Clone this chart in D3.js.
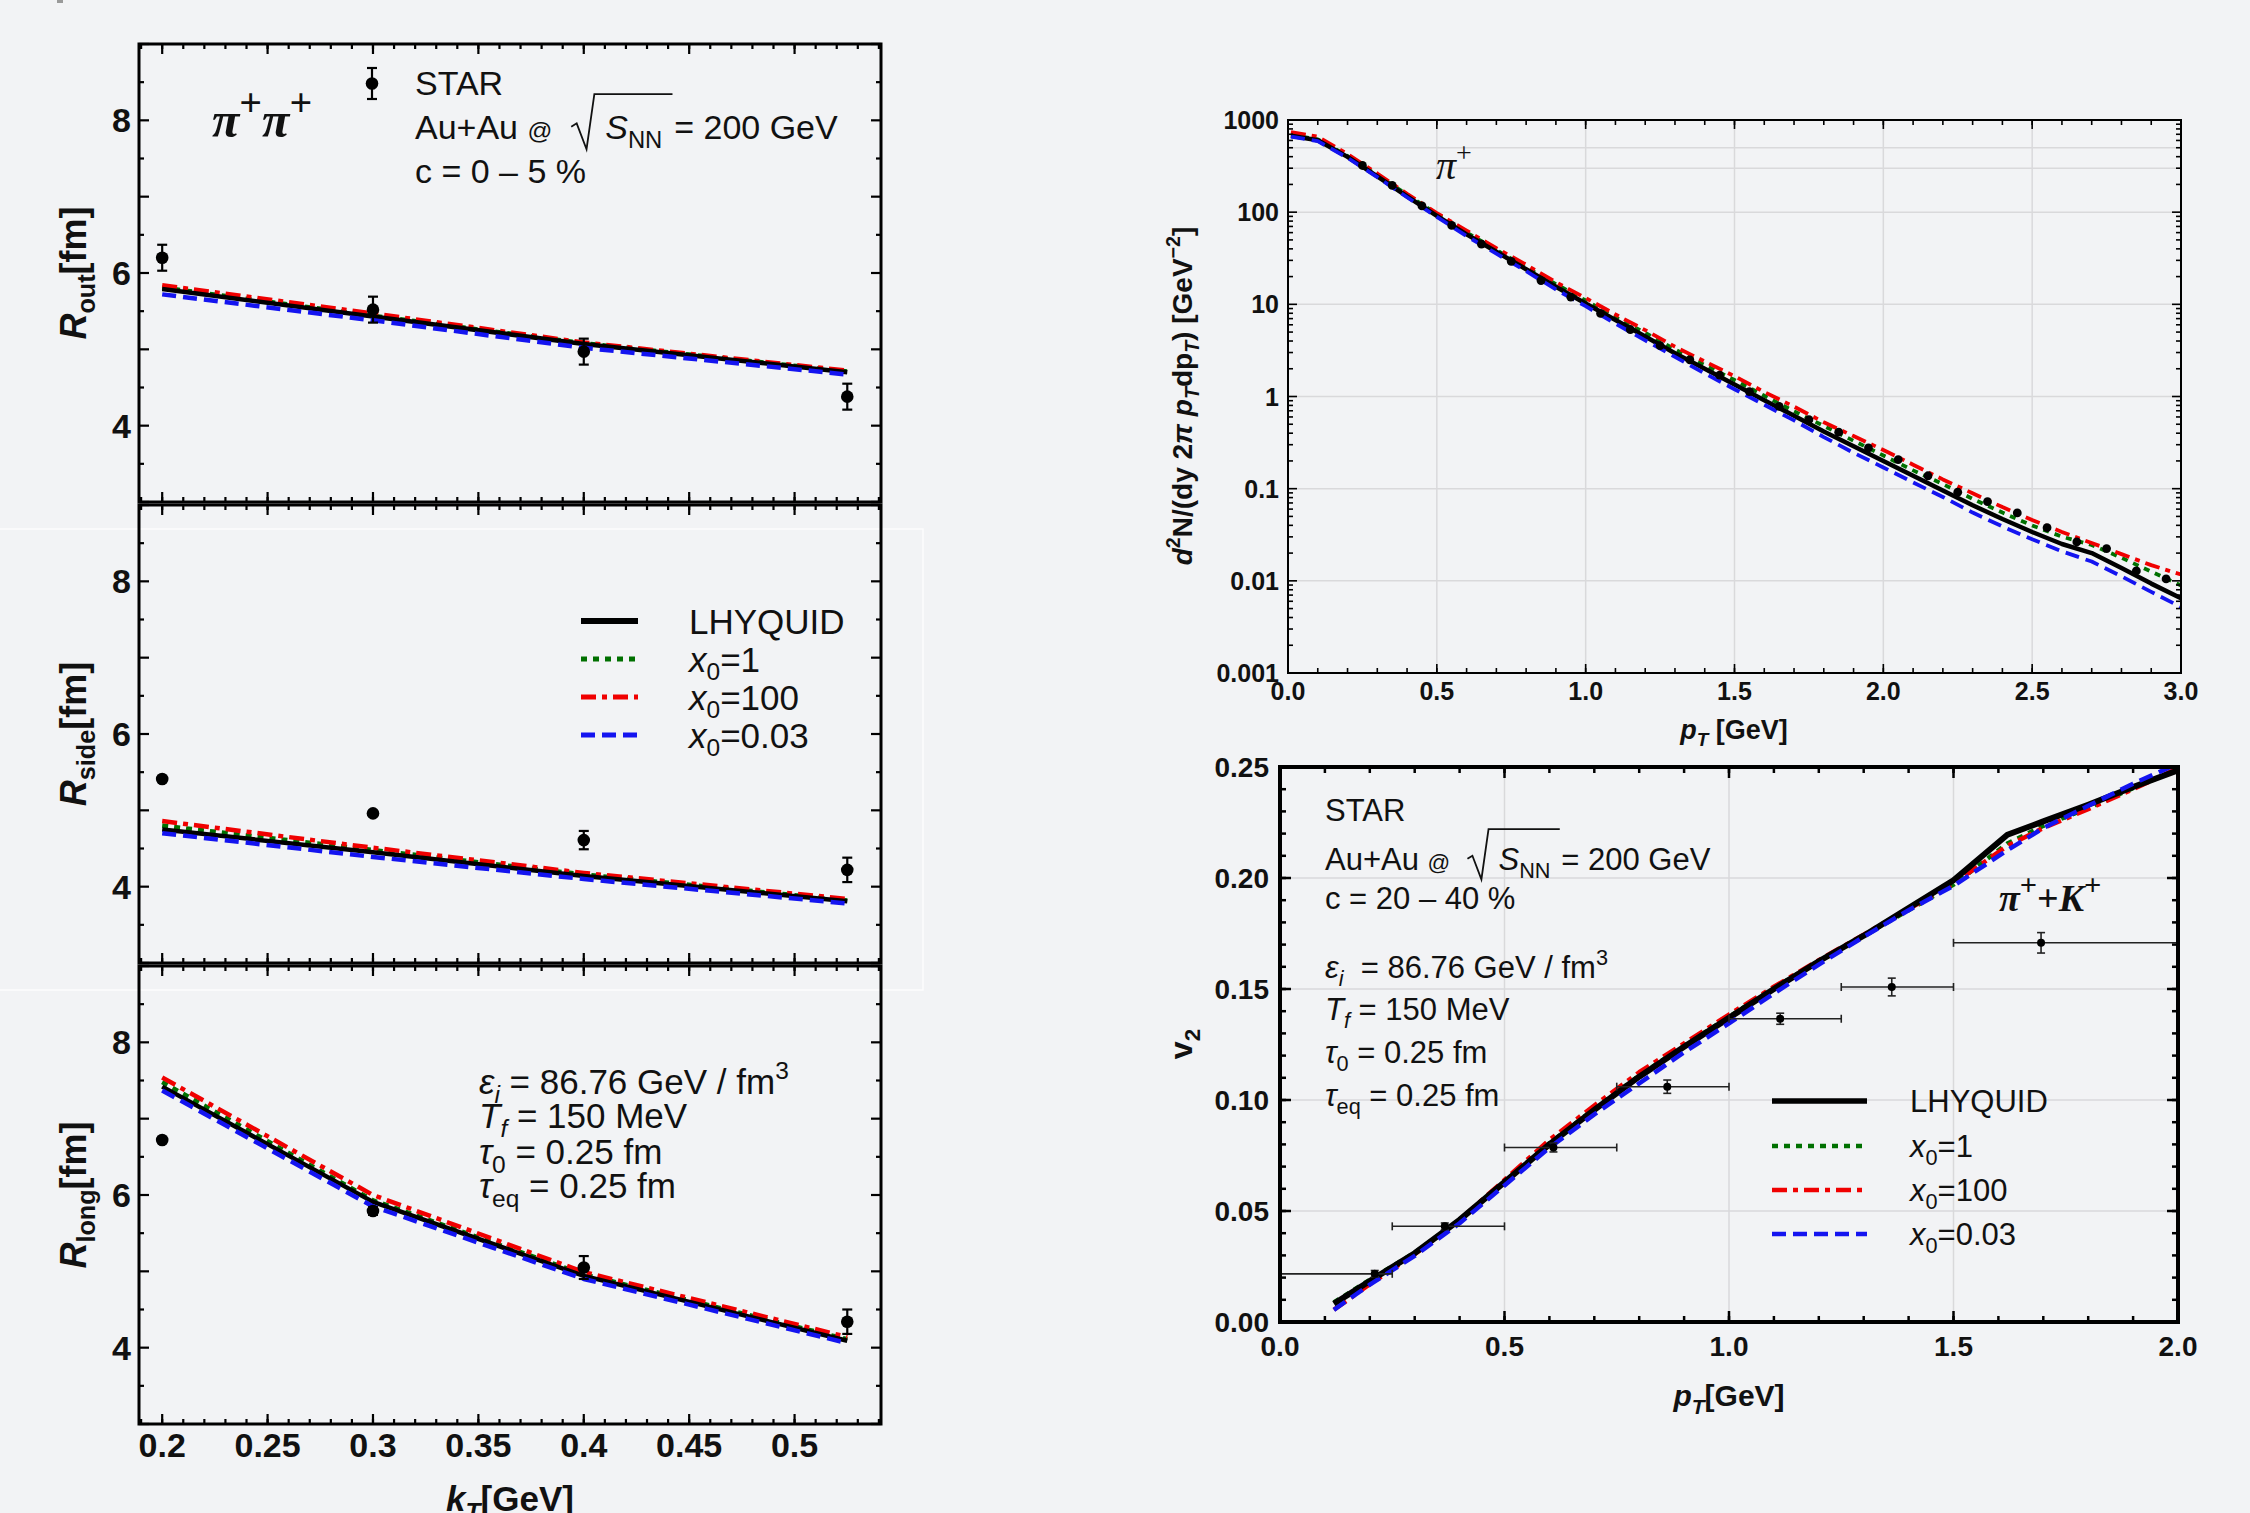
<!DOCTYPE html>
<html lang="en">
<head>
<meta charset="utf-8">
<title>HBT radii, spectrum and v2</title>
<script src="https://cdnjs.cloudflare.com/ajax/libs/d3/7.8.5/d3.min.js"></script>
<style>
  body { margin: 0; background: #f2f3f5; }
  svg text { font-family: "Liberation Sans", Arial, sans-serif; fill: #111; white-space: pre; }
</style>
</head>
<body>
<svg id="fig" width="2250" height="1513"></svg>
<script>
// ---------- data ----------
var kT = [0.2, 0.3, 0.4, 0.525];

var routStar = [6.20, 5.52, 4.97, 4.38],  routErr = [0.17, 0.17, 0.17, 0.17];
var rsideStar = [5.41, 4.96, 4.61, 4.22], rsideErr = [0.03, 0.03, 0.12, 0.16];
var rlongStar = [6.72, 5.79, 5.05, 4.34], rlongErr = [0.03, 0.05, 0.15, 0.16];

var routLhyquid = [5.79, 5.43, 5.07, 4.70];
var routX1      = [5.81, 5.44, 5.08, 4.71];
var routX100    = [5.84, 5.47, 5.09, 4.72];
var routX003    = [5.72, 5.38, 5.02, 4.67];

var rsideLhyquid = [4.75, 4.45, 4.14, 3.81];
var rsideX1      = [4.80, 4.48, 4.16, 3.82];
var rsideX100    = [4.86, 4.51, 4.18, 3.84];
var rsideX003    = [4.70, 4.39, 4.10, 3.78];

var rlongLhyquid = [7.42, 5.91, 4.94, 4.09];
var rlongX1      = [7.48, 5.93, 4.96, 4.11];
var rlongX100    = [7.54, 6.00, 4.99, 4.14];
var rlongX003    = [7.37, 5.85, 4.90, 4.06];

var kTTicks = [0.2, 0.25, 0.3, 0.35, 0.4, 0.45, 0.5];
var rTicks = [4, 6, 8];

// pi+ spectrum
var specPt = [0.01, 0.1, 0.2, 0.3, 0.4, 0.5, 0.6, 0.7, 0.8, 0.9, 1.0, 1.1, 1.2, 1.3, 1.4, 1.5,
              1.6, 1.7, 1.8, 1.9, 2.0, 2.1, 2.2, 2.3, 2.4, 2.5, 2.6, 2.7, 2.8, 2.9, 3.0];
var specLhyquid = [676, 603, 398, 245, 148, 91.2, 57.5, 37.2, 24.0, 15.5, 10.2, 6.76, 4.47, 2.95, 2.00, 1.35,
                   0.912, 0.617, 0.417, 0.288, 0.200, 0.138, 0.0955, 0.0661, 0.0468, 0.0339, 0.0251, 0.0200, 0.0138, 0.00933, 0.00646];
var specX1 = [692, 617, 407, 251, 155, 95.5, 60.3, 38.9, 25.1, 16.6, 11.0, 7.24, 4.90, 3.24, 2.19, 1.51,
              1.02, 0.692, 0.479, 0.331, 0.229, 0.158, 0.112, 0.0776, 0.0550, 0.0398, 0.0302, 0.0245, 0.0178, 0.0126, 0.00891];
var specX100 = [741, 661, 427, 263, 158, 97.7, 63.1, 40.7, 26.9, 17.4, 11.7, 7.76, 5.25, 3.47, 2.40, 1.66,
                1.12, 0.776, 0.525, 0.372, 0.263, 0.182, 0.126, 0.0891, 0.0631, 0.0457, 0.0339, 0.0257, 0.0195, 0.0148, 0.0117];
var specX003 = [661, 589, 389, 240, 145, 89.1, 55.0, 35.5, 22.9, 14.5, 9.55, 6.17, 4.07, 2.69, 1.78, 1.20,
                0.813, 0.550, 0.363, 0.245, 0.170, 0.117, 0.0813, 0.0550, 0.0389, 0.0282, 0.0209, 0.0162, 0.0112, 0.00759, 0.00519];
var specStarPt = [0.25, 0.35, 0.45, 0.55, 0.65, 0.75, 0.85, 0.95, 1.05, 1.15, 1.25, 1.35, 1.45, 1.55,
                  1.65, 1.75, 1.85, 1.95, 2.05, 2.15, 2.25, 2.35, 2.45, 2.55, 2.65, 2.75, 2.85, 2.95];
var specStar = [321, 195, 117, 71.8, 45.0, 29.2, 18.1, 12.0, 7.96, 5.33, 3.57, 2.50, 1.71, 1.13,
                0.780, 0.560, 0.410, 0.277, 0.207, 0.138, 0.0917, 0.0722, 0.0545, 0.0377, 0.0264, 0.0224, 0.0128, 0.0105];
var specXTicks = [0, 0.5, 1, 1.5, 2, 2.5, 3];
var specYTicks = [0.001, 0.01, 0.1, 1, 10, 100, 1000];
var specYTickLabels = ["0.001", "0.01", "0.1", "1", "10", "100", "1000"];
var specExtraGrid = [300, 500];

// v2 of pi+ + K+
var v2Pt = [0.12, 0.2, 0.3, 0.4, 0.5, 0.6, 0.7, 0.8, 0.9, 1.0, 1.1, 1.2, 1.3, 1.4, 1.5, 1.62, 1.7, 1.8, 1.9, 2.0];
var v2Lhyquid = [0.0082, 0.0185, 0.0310, 0.0460, 0.0630, 0.0800, 0.0955, 0.1105, 0.1240, 0.1370,
                 0.1500, 0.1625, 0.1740, 0.1865, 0.1990, 0.2195, 0.2255, 0.2330, 0.2410, 0.2485];
var v2X1 = [0.0088, 0.0190, 0.0312, 0.0460, 0.0630, 0.0805, 0.0960, 0.1110, 0.1245, 0.1375,
            0.1505, 0.1625, 0.1740, 0.1855, 0.1970, 0.2155, 0.2235, 0.2315, 0.2405, 0.2490];
var v2X100 = [0.0055, 0.0170, 0.0305, 0.0460, 0.0640, 0.0820, 0.0975, 0.1125, 0.1255, 0.1385,
              0.1510, 0.1630, 0.1745, 0.1860, 0.1975, 0.2145, 0.2225, 0.2310, 0.2400, 0.2495];
var v2X003 = [0.0055, 0.0168, 0.0298, 0.0445, 0.0615, 0.0785, 0.0935, 0.1075, 0.1215, 0.1345,
              0.1480, 0.1610, 0.1735, 0.1855, 0.1965, 0.2125, 0.2225, 0.2325, 0.2425, 0.2515];
var v2StarPt = [0.211, 0.367, 0.609, 0.8625, 1.114, 1.3625, 1.695];
var v2Star = [0.0217, 0.0431, 0.0786, 0.106, 0.1366, 0.1509, 0.1708];
var v2StarErr = [0.0015, 0.0015, 0.002, 0.003, 0.0025, 0.004, 0.0046];
var v2BinLo = [0, 0.25, 0.5, 0.75, 1.0, 1.25, 1.5];
var v2BinHi = [0.25, 0.5, 0.75, 1.0, 1.25, 1.5, 2.0];
var v2XTicks = [0, 0.5, 1, 1.5, 2];
var v2YTicks = [0, 0.05, 0.1, 0.15, 0.2, 0.25];

var legendNames = ["LHYQUID", "x0=1", "x0=100", "x0=0.03"];

// ---------- styles ----------
var GREEN = "#007000", RED = "#f00000", BLUE = "#1414f0";
var lineStyle = {
  lhyquid: { c: "#000", dash: null },
  x1:      { c: GREEN, dash: "6,6" },
  x100:    { c: RED,   dash: "15,6,5,6" },
  x003:    { c: BLUE,  dash: "14,7" }
};
var drawOrder = ["x1", "x100", "lhyquid", "x003"];

var svg = d3.select("#fig");

// text with sub/superscripts
function rich(g, x, y, parts, size, anchor) {
  var t = g.append("text").attr("x", x).attr("y", y).attr("font-size", size);
  if (anchor) t.attr("text-anchor", anchor);
  var cur = 0;
  parts.forEach(function(p) {
    var s = typeof p === "string" ? { t: p } : p;
    var off = s.sub ? size * 0.25 : s.sup ? -size * 0.42 : 0;
    var ts = t.append("tspan").text(s.t).attr("dy", off - cur);
    cur = off;
    if (s.sub || s.sup) ts.attr("font-size", size * (s.ss || 0.7));
    if (s.fs) ts.attr("font-size", size * s.fs);
    if (s.i) ts.attr("font-style", "italic");
    if (s.b) ts.attr("font-weight", "bold");
    if (s.serif) ts.attr("font-family", "Liberation Serif, serif");
  });
  return t;
}

// "Au+Au @ sqrt(S_NN) = 200 GeV"
function sqrtLine(g, x, y, size) {
  var t1 = rich(g, x, y, ["Au+Au ", { t: "@", fs: 0.72 }, "  "], size);
  var xr = x + t1.node().getComputedTextLength();
  var xs = xr + size * 1.0;
  var t2 = rich(g, xs, y, [{ t: "S", i: true }, { t: "NN", sub: true }], size);
  var xe = xs + t2.node().getComputedTextLength() + size * 0.3;
  g.append("path")
    .attr("d", "M" + xr + "," + (y - size * 0.36) + " l" + size * 0.16 + "," + (-size * 0.1) +
      " L" + (xr + size * 0.45) + "," + (y + size * 0.3) +
      " L" + (xr + size * 0.68) + "," + (y - size * 1.32) + " H" + xe)
    .attr("fill", "none").attr("stroke", "#111").attr("stroke-width", 1.8);
  rich(g, xe + size * 0.05, y, ["= 200 GeV"], size);
}

function drawLine(g, xs, ys, vals, key, w) {
  var st = lineStyle[key];
  var line = d3.line().x(function(d, i) { return xs(vals[0][i]); }).y(function(d) { return ys(d); });
  g.append("path").datum(vals[1]).attr("d", line)
    .attr("fill", "none").attr("stroke", st.c).attr("stroke-width", w)
    .attr("stroke-dasharray", st.dash).attr("stroke-linejoin", "round");
}

function ticks(g, xs, ys, xMaj, xMin, yMaj, yMin, majLen, minLen, sw) {
  var x0 = xs.range()[0], x1 = xs.range()[1], yb = ys.range()[0], yt = ys.range()[1];
  function tk(v, len, vert) {
    if (vert) {
      g.append("line").attr("x1", xs(v)).attr("x2", xs(v)).attr("y1", yb).attr("y2", yb - len);
      g.append("line").attr("x1", xs(v)).attr("x2", xs(v)).attr("y1", yt).attr("y2", yt + len);
    } else {
      g.append("line").attr("y1", ys(v)).attr("y2", ys(v)).attr("x1", x0).attr("x2", x0 + len);
      g.append("line").attr("y1", ys(v)).attr("y2", ys(v)).attr("x1", x1).attr("x2", x1 - len);
    }
  }
  xMin.forEach(function(v) { tk(v, minLen, true); });
  xMaj.forEach(function(v) { tk(v, majLen, true); });
  yMin.forEach(function(v) { tk(v, minLen, false); });
  yMaj.forEach(function(v) { tk(v, majLen, false); });
  g.selectAll("line").attr("stroke", "#000").attr("stroke-width", sw);
}

function legend(g, x0, x1, tx, rows, size, w) {
  ["lhyquid", "x1", "x100", "x003"].forEach(function(k, i) {
    var st = lineStyle[k];
    g.append("line").attr("x1", x0).attr("x2", x1).attr("y1", rows[i]).attr("y2", rows[i])
      .attr("stroke", st.c).attr("stroke-width", k === "lhyquid" ? w + 1 : w)
      .attr("stroke-dasharray", st.dash);
    var parts = i === 0 ? [legendNames[0]]
      : [{ t: "x", i: true }, { t: "0", sub: true }, legendNames[i].slice(2)];
    rich(g, tx, rows[i] + size * 0.36, parts, size);
  });
}

// faint white seam of the pasted middle panel
svg.append("rect").attr("x", -2).attr("y", 529).attr("width", 925).attr("height", 461)
  .attr("fill", "none").attr("stroke", "#fff").attr("stroke-width", 1.5).attr("opacity", 0.8);
svg.append("rect").attr("x", 57).attr("y", 0).attr("width", 6).attr("height", 3).attr("fill", "#9a9a9a");

// ---------- left column: HBT radii ----------
var LX0 = 139, LX1 = 881, PH = 458, tops = [44, 505, 966];
var xk = d3.scaleLinear().domain([0.189, 0.541]).range([LX0, LX1]);

var panels = [
  { star: routStar, err: routErr, s: { lhyquid: routLhyquid, x1: routX1, x100: routX100, x003: routX003 }, lab: "out" },
  { star: rsideStar, err: rsideErr, s: { lhyquid: rsideLhyquid, x1: rsideX1, x100: rsideX100, x003: rsideX003 }, lab: "side" },
  { star: rlongStar, err: rlongErr, s: { lhyquid: rlongLhyquid, x1: rlongX1, x100: rlongX100, x003: rlongX003 }, lab: "long" }
];

panels.forEach(function(p, pi) {
  var top = tops[pi];
  var y = d3.scaleLinear().domain([3, 9]).range([top + PH, top]);
  var g = svg.append("g");
  var cid = "clipL" + pi;
  svg.append("clipPath").attr("id", cid).append("rect")
    .attr("x", LX0).attr("y", top).attr("width", LX1 - LX0).attr("height", PH);
  var lg = g.append("g").attr("clip-path", "url(#" + cid + ")");
  drawOrder.forEach(function(k) { drawLine(lg, xk, y, [kT, p.s[k]], k, 4.5); });
  // STAR points
  p.star.forEach(function(v, i) {
    var cx = xk(kT[i]);
    var e = Math.max(y(v - p.err[i]) - y(v), 0);
    g.append("line").attr("x1", cx).attr("x2", cx).attr("y1", y(v) - e).attr("y2", y(v) + e)
      .attr("stroke", "#000").attr("stroke-width", 2.2);
    [y(v) - e, y(v) + e].forEach(function(yy) {
      g.append("line").attr("x1", cx - 5).attr("x2", cx + 5).attr("y1", yy).attr("y2", yy)
        .attr("stroke", "#000").attr("stroke-width", 2.2);
    });
    g.append("circle").attr("cx", cx).attr("cy", y(v)).attr("r", 6.3).attr("fill", "#000");
  });
  // frame and ticks
  g.append("rect").attr("x", LX0).attr("y", top).attr("width", LX1 - LX0).attr("height", PH)
    .attr("fill", "none").attr("stroke", "#000").attr("stroke-width", 3);
  var tg = g.append("g");
  ticks(tg, xk, y, kTTicks, d3.range(0.19, 0.541, 0.01), d3.range(3, 9.01, 1), d3.range(3.5, 9, 1), 10, 5, 2.2);
  // y tick labels
  rTicks.forEach(function(v) {
    g.append("text").attr("x", 131).attr("y", y(v) + 12).attr("text-anchor", "end")
      .attr("font-size", 34).attr("font-weight", "bold").text(d3.format("d")(v));
  });
  // y title
  var yt = g.append("g").attr("transform", "translate(73," + (top + PH / 2) + ") rotate(-90)");
  rich(yt, 0, 13, [{ t: "R", i: true, b: true }, { t: p.lab, sub: true, b: true }, { t: "[fm]", b: true }], 36, "middle");
});

// bottom x axis labels for the left column
kTTicks.forEach(function(v) {
  svg.append("text").attr("x", xk(v)).attr("y", 1457).attr("text-anchor", "middle")
    .attr("font-size", 34).attr("font-weight", "bold").text(String(v));
});
rich(svg, 510, 1511, [{ t: "k", i: true, b: true }, { t: "T", sub: true, i: true, b: true }, { t: "[GeV]", b: true }], 35, "middle");

// left annotations
var ann = svg.append("g");
rich(ann, 212, 137, [{ t: "\u03c0", i: true, b: true, serif: true }, { t: "+", sup: true, ss: 0.8, b: true, serif: true },
  { t: "\u03c0", i: true, b: true, serif: true }, { t: "+", sup: true, ss: 0.8, b: true, serif: true }], 50);
ann.append("line").attr("x1", 372).attr("x2", 372).attr("y1", 68).attr("y2", 99).attr("stroke", "#000").attr("stroke-width", 2.2);
[68, 99].forEach(function(yy) {
  ann.append("line").attr("x1", 367).attr("x2", 377).attr("y1", yy).attr("y2", yy).attr("stroke", "#000").attr("stroke-width", 2.2);
});
ann.append("circle").attr("cx", 372).attr("cy", 83.5).attr("r", 6.3).attr("fill", "#000");
rich(ann, 415, 95, ["STAR"], 34);
sqrtLine(ann, 415, 139, 34);
rich(ann, 415, 183, ["c = 0 \u2013 5 %"], 34);

legend(ann, 581, 638, 689, [621, 659, 697, 735], 35, 5);

rich(ann, 479, 1094, [{ t: "\u03b5", i: true }, { t: "i", sub: true, i: true }, " = 86.76 GeV / fm", { t: "3", sup: true }], 35);
rich(ann, 479, 1128, [{ t: "T", i: true }, { t: "f", sub: true, i: true }, " = 150 MeV"], 35);
rich(ann, 479, 1164, [{ t: "\u03c4", i: true }, { t: "0", sub: true }, " = 0.25 fm"], 35);
rich(ann, 479, 1198, [{ t: "\u03c4", i: true }, { t: "eq", sub: true }, " = 0.25 fm"], 35);

// ---------- right top: spectrum ----------
(function() {
  var xs = d3.scaleLinear().domain([0, 3]).range([1288, 2181]);
  var ys = d3.scaleLog().domain([0.001, 1000]).range([673, 120]);
  var g = svg.append("g");
  var gr = g.append("g").attr("stroke", "#d9d9db").attr("stroke-width", 1.5);
  [0.5, 1, 1.5, 2, 2.5].forEach(function(v) {
    gr.append("line").attr("x1", xs(v)).attr("x2", xs(v)).attr("y1", 120).attr("y2", 673);
  });
  [0.01, 0.1, 1, 10, 100].concat(specExtraGrid).forEach(function(v) {
    gr.append("line").attr("y1", ys(v)).attr("y2", ys(v)).attr("x1", 1288).attr("x2", 2181);
  });
  svg.append("clipPath").attr("id", "clipS").append("rect").attr("x", 1288).attr("y", 120).attr("width", 893).attr("height", 553);
  var lg = g.append("g").attr("clip-path", "url(#clipS)");
  var ser = { lhyquid: specLhyquid, x1: specX1, x100: specX100, x003: specX003 };
  drawOrder.forEach(function(k) { drawLine(lg, xs, ys, [specPt, ser[k]], k, k === "lhyquid" ? 4.5 : 3.8); });
  specStar.forEach(function(v, i) {
    g.append("circle").attr("cx", xs(specStarPt[i])).attr("cy", ys(v)).attr("r", 4.4).attr("fill", "#000");
  });
  g.append("rect").attr("x", 1288).attr("y", 120).attr("width", 893).attr("height", 553)
    .attr("fill", "none").attr("stroke", "#000").attr("stroke-width", 2);
  var minorY = [];
  [0.001, 0.01, 0.1, 1, 10, 100].forEach(function(d) { d3.range(2, 10).forEach(function(m) { minorY.push(d * m); }); });
  ticks(g.append("g"), xs, ys, specXTicks, d3.range(0.1, 3, 0.1), specYTicks, minorY, 9, 5, 1.6);
  specXTicks.forEach(function(v) {
    g.append("text").attr("x", xs(v)).attr("y", 700).attr("text-anchor", "middle")
      .attr("font-size", 25).attr("font-weight", "bold").text(d3.format(".1f")(v));
  });
  specYTicks.forEach(function(v, i) {
    g.append("text").attr("x", 1279).attr("y", ys(v) + 9).attr("text-anchor", "end")
      .attr("font-size", 25).attr("font-weight", "bold").text(specYTickLabels[i]);
  });
  var yt = g.append("g").attr("transform", "translate(1182,396) rotate(-90)");
  rich(yt, 0, 10, [{ t: "d", i: true, b: true }, { t: "2", sup: true, b: true }, { t: "N/(dy 2", b: true },
    { t: "\u03c0", i: true, b: true }, { t: " p", i: true, b: true }, { t: "T", sub: true, i: true, b: true },
    { t: "dp", b: true }, { t: "T", sub: true, i: true, b: true }, { t: ") [GeV", b: true },
    { t: "\u22122", sup: true, b: true }, { t: "]", b: true }], 28, "middle");
  rich(g, 1734, 739, [{ t: "p", i: true, b: true }, { t: "T", sub: true, i: true, b: true }, { t: " [GeV]", b: true }], 27, "middle");
  rich(g, 1436, 179, [{ t: "\u03c0", i: true, serif: true }, { t: "+", sup: true, serif: true }], 40);
})();

// ---------- right bottom: v2 ----------
(function() {
  var xs = d3.scaleLinear().domain([0, 2]).range([1280, 2178]);
  var ys = d3.scaleLinear().domain([0, 0.25]).range([1322, 767]);
  var g = svg.append("g");
  var gr = g.append("g").attr("stroke", "#d9d9db").attr("stroke-width", 1.5);
  [0.5, 1, 1.5].forEach(function(v) {
    gr.append("line").attr("x1", xs(v)).attr("x2", xs(v)).attr("y1", 767).attr("y2", 1322);
  });
  [0.05, 0.1, 0.15, 0.2].forEach(function(v) {
    gr.append("line").attr("y1", ys(v)).attr("y2", ys(v)).attr("x1", 1280).attr("x2", 2178);
  });
  svg.append("clipPath").attr("id", "clipV").append("rect").attr("x", 1280).attr("y", 767).attr("width", 898).attr("height", 555);
  var lg = g.append("g").attr("clip-path", "url(#clipV)");
  var ser = { lhyquid: v2Lhyquid, x1: v2X1, x100: v2X100, x003: v2X003 };
  drawOrder.forEach(function(k) { drawLine(lg, xs, ys, [v2Pt, ser[k]], k, k === "lhyquid" ? 6 : 4.5); });
  var pg = g.append("g").attr("stroke", "#222").attr("stroke-width", 1.6);
  v2Star.forEach(function(v, i) {
    var cx = xs(v2StarPt[i]), cy = ys(v);
    pg.append("line").attr("x1", xs(v2BinLo[i])).attr("x2", xs(v2BinHi[i])).attr("y1", cy).attr("y2", cy);
    [v2BinLo[i], v2BinHi[i]].forEach(function(b) {
      pg.append("line").attr("x1", xs(b)).attr("x2", xs(b)).attr("y1", cy - 4).attr("y2", cy + 4);
    });
    var y1 = ys(v + v2StarErr[i]), y2 = ys(v - v2StarErr[i]);
    pg.append("line").attr("x1", cx).attr("x2", cx).attr("y1", y1).attr("y2", y2);
    [y1, y2].forEach(function(yy) {
      pg.append("line").attr("x1", cx - 4).attr("x2", cx + 4).attr("y1", yy).attr("y2", yy);
    });
    g.append("circle").attr("cx", cx).attr("cy", cy).attr("r", 4).attr("fill", "#000");
  });
  g.append("rect").attr("x", 1280).attr("y", 767).attr("width", 898).attr("height", 555)
    .attr("fill", "none").attr("stroke", "#000").attr("stroke-width", 4);
  ticks(g.append("g"), xs, ys, v2XTicks, d3.range(0.1, 2, 0.1), v2YTicks, d3.range(0.01, 0.25, 0.01), 11, 6, 2.5);
  v2XTicks.forEach(function(v) {
    g.append("text").attr("x", xs(v)).attr("y", 1356).attr("text-anchor", "middle")
      .attr("font-size", 28).attr("font-weight", "bold").text(d3.format(".1f")(v));
  });
  v2YTicks.forEach(function(v) {
    g.append("text").attr("x", 1269).attr("y", ys(v) + 10).attr("text-anchor", "end")
      .attr("font-size", 28).attr("font-weight", "bold").text(d3.format(".2f")(v));
  });
  var yt = g.append("g").attr("transform", "translate(1181,1044) rotate(-90)");
  rich(yt, 0, 11, [{ t: "v", b: true }, { t: "2", sub: true, b: true }], 32, "middle");
  rich(g, 1729, 1406, [{ t: "p", i: true, b: true }, { t: "T", sub: true, i: true, b: true }, { t: "[GeV]", b: true }], 30, "middle");

  rich(g, 1325, 821, ["STAR"], 31);
  sqrtLine(g, 1325, 870, 31);
  rich(g, 1325, 909, ["c = 20 \u2013 40 %"], 31);
  rich(g, 1325, 978, [{ t: "\u03b5", i: true }, { t: "i", sub: true, i: true }, "  = 86.76 GeV / fm", { t: "3", sup: true }], 31);
  rich(g, 1325, 1020, [{ t: "T", i: true }, { t: "f", sub: true, i: true }, " = 150 MeV"], 31);
  rich(g, 1325, 1063, [{ t: "\u03c4", i: true }, { t: "0", sub: true }, " = 0.25 fm"], 31);
  rich(g, 1325, 1106, [{ t: "\u03c4", i: true }, { t: "eq", sub: true }, " = 0.25 fm"], 31);
  rich(g, 1999, 911, [{ t: "\u03c0", i: true, b: true, serif: true }, { t: "+", sup: true, ss: 0.8, b: true, serif: true },
    { t: "+", b: true, serif: true }, { t: "K", i: true, b: true, serif: true }, { t: "+", sup: true, ss: 0.8, b: true, serif: true }], 38);
  legend(g, 1772, 1867, 1910, [1101, 1146, 1190, 1234], 31, 4.5);
})();
</script>
</body>
</html>
